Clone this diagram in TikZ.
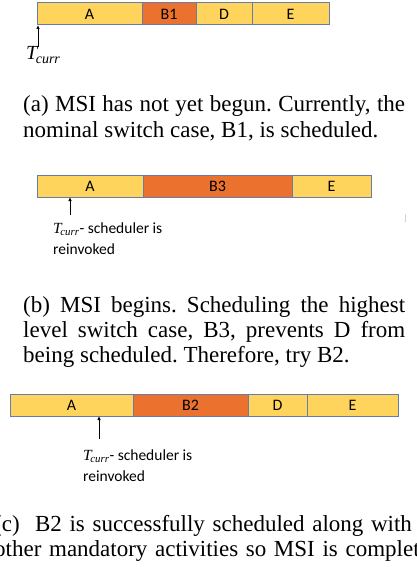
\documentclass[tikz,border=0pt]{standalone}
\usepackage{fontspec}
\setmainfont{Liberation Serif}
\newfontfamily\calib{Carlito}
\usetikzlibrary{arrows.meta,positioning}
\definecolor{slotYellow}{RGB}{255,212,92}
\definecolor{slotOrange}{RGB}{235,113,46}
\definecolor{slotLine}{RGB}{100,125,170}
\tikzset{
  slot/.style={draw=slotLine, fill=slotYellow, line width=1pt, minimum height=22pt,
               inner sep=0pt, outer sep=0pt, font=\calib\fontsize{16}{16}\selectfont},
  hotslot/.style={slot, fill=slotOrange},
  tarrow/.style={-{Latex[length=4pt,width=3.5pt]}, line width=0.8pt},
  note/.style={inner sep=0pt, align=left, font=\calib\fontsize{15.5}{21.5}\selectfont},
  caption/.style={inner sep=0pt, text width=382pt, align=justify,
                  font=\fontsize{23}{25}\selectfont}
}
\newcommand{\tcur}{{\rmfamily\itshape T\kern-1.5pt\textsubscript{curr}}}
\frenchspacing

\begin{document}
\begin{tikzpicture}[x=1pt, y=-1pt, node distance=0pt]
\useasboundingbox (0,0) rectangle (417,567);
\clip (0,0) rectangle (417,567);
% (a) nominal switch case
\node[slot, minimum width=105pt, anchor=west] (aA) at (37,14) {A};
\node[hotslot, minimum width=54pt, right=of aA] (aB1) {B1};
\node[slot, minimum width=56pt, right=of aB1] (aD) {D};
\node[slot, minimum width=77pt, right=of aD] (aE) {E};
\coordinate (aT) at (38,47);
\draw[tarrow] (aT) -- (aT |- aA.south);
\node[inner sep=0pt, anchor=base west, font=\fontsize{20}{20}\selectfont] (aTc) at (26,60) {\tcur};
\node[caption, anchor=base west] (capA) at (23,112)
  {(a) MSI has not yet begun. Currently, the\linebreak nominal switch case, B1, is scheduled.};
% (b) highest level case
\node[slot, minimum width=106pt, anchor=west] (bA) at (37,186) {A};
\node[hotslot, minimum width=149pt, right=of bA] (bB3) {B3};
\node[slot, minimum width=79pt, right=of bB3] (bE) {E};
\coordinate (bT) at (70,215);
\draw[tarrow] (bT) -- (bT |- bA.south);
\node[note, anchor=base west] (bTc) at (53,254.5) {\tcur- scheduler is\\reinvoked};
\draw[gray!35, line width=0.8pt] (405,214) -- (405,222);
\node[caption, anchor=base west] (capB) at (23,312)
  {(b) MSI begins. Scheduling the highest\linebreak level switch case, B3, prevents D from\linebreak being scheduled. Therefore, try B2.};
% (c) B2 fits
\node[slot, minimum width=123pt, anchor=west] (cA) at (10,405) {A};
\node[hotslot, minimum width=115pt, right=of cA] (cB2) {B2};
\node[slot, minimum width=59pt, right=of cB2] (cD) {D};
\node[slot, minimum width=91pt, right=of cD] (cE) {E};
\coordinate (cT) at (99,439);
\draw[tarrow] (cT) -- (cT |- cA.south);
\node[note, anchor=base west] (cTc) at (83,481.5) {\tcur- scheduler is\\reinvoked};
\node[caption, text width=470pt, align=left, anchor=base west] (capC) at (-6,531)
  {(c)~~B2 is successfully scheduled along with the\\other mandatory activities so MSI is complete.};
\end{tikzpicture}
\end{document}
